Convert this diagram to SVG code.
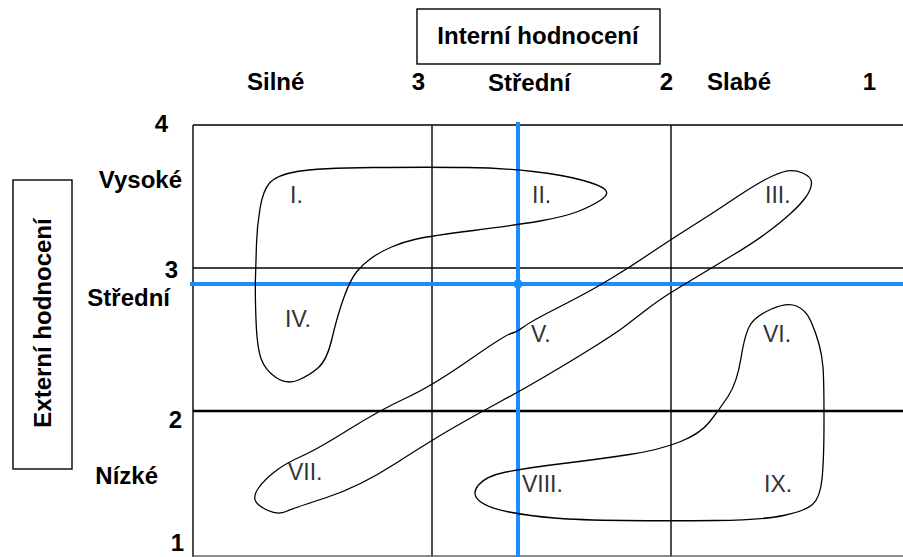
<svg xmlns="http://www.w3.org/2000/svg" width="903" height="557" viewBox="0 0 903 557">
<style>
.b{font-family:"Liberation Sans",Arial,sans-serif;font-weight:bold;font-size:24px;fill:#000}
.r{font-family:"Liberation Sans",Arial,sans-serif;font-size:23px;fill:#333}
.g{stroke:#000;stroke-width:1.4;fill:none}
.blob{stroke:#000;stroke-width:1.3;fill:none;stroke-linejoin:round}
.blue{stroke:#1a8cff;stroke-width:4;fill:none}
</style>
<rect width="903" height="557" fill="#fff"/>
<g id="header">
<rect x="417" y="9" width="243" height="55" class="g"/>
<text class="b" x="538" y="44" text-anchor="middle">Interní hodnocení</text>
<text class="b" x="247" y="90">Silné</text>
<text class="b" x="425" y="90" text-anchor="end">3</text>
<text class="b" x="488" y="91">Střední</text>
<text class="b" x="673" y="90" text-anchor="end">2</text>
<text class="b" x="707" y="90">Slabé</text>
<text class="b" x="876" y="90" text-anchor="end">1</text>
</g>
<g id="side">
<rect x="13" y="180" width="59" height="289" class="g"/>
<text class="b" transform="translate(51,323) rotate(-90)" text-anchor="middle">Externí hodnocení</text>
<text class="b" x="168" y="132" text-anchor="end">4</text>
<text class="b" x="182" y="188" text-anchor="end">Vysoké</text>
<text class="b" x="178" y="278" text-anchor="end">3</text>
<text class="b" x="170" y="306" text-anchor="end">Střední</text>
<text class="b" x="182" y="428" text-anchor="end">2</text>
<text class="b" x="158" y="484" text-anchor="end">Nízké</text>
<text class="b" x="184" y="551" text-anchor="end">1</text>
</g>
<g id="grid">
<line x1="193" y1="125" x2="903" y2="125" class="g"/>
<line x1="193" y1="125" x2="193" y2="557" class="g"/>
<line x1="432" y1="125" x2="432" y2="557" class="g"/>
<line x1="671" y1="125" x2="671" y2="557" class="g"/>
<line x1="193" y1="268" x2="903" y2="268" class="g"/>
<line x1="193" y1="411" x2="903" y2="411" stroke="#000" stroke-width="2.6"/>
<line x1="193" y1="556" x2="903" y2="556" stroke="#666" stroke-width="1.4"/>
</g>
<g id="connectors">
<line x1="190" y1="284" x2="903" y2="284" class="blue"/>
<line x1="518" y1="122" x2="518" y2="557" class="blue"/>
<circle cx="518" cy="284" r="4.5" fill="#1a8cff"/>
</g>
<g id="blob-I-II-IV">
<path class="blob" d="M 256.5,243.5 Q 256,260 255.5,276.5 Q 255,293 256,320 Q 257,347 261,358.5 Q 265,370 276,377.5 Q 287,385 298.5,380 Q 310,375 318.5,367.5 Q 327,360 332,338.5 Q 337,317 343.5,298.5 Q 350,280 356.5,272 Q 363,264 371.5,258 Q 380,252 391.5,247 Q 403,242 416.5,239 Q 430,236 473.5,230.5 Q 517,225 540,221 Q 563,217 576.5,212 Q 590,207 600,200.5 Q 610,194 605,189.5 Q 600,185 581.5,180 Q 563,175 533,171.5 Q 503,168 466.5,167.5 Q 430,167 373.5,167.5 Q 317,168 297,171.5 Q 277,175 270,182.5 Q 263,190 260,208.5 Q 257,227 256.5,243.5 Z"/>
<text class="r" x="290" y="203">I.</text>
<text class="r" x="532" y="203">II.</text>
<text class="r" x="285" y="327">IV.</text>
</g>
<g id="blob-III-V-VII">
<path class="blob" d="M 802.5,173 Q 812,177 811.5,183.5 Q 811,190 805.5,197.5 Q 800,205 790,214 Q 780,223 766.5,233 Q 753,243 733,255 Q 713,267 696.5,277 Q 680,287 669.5,293.5 Q 659,300 646,310 Q 633,320 624.5,326.5 Q 616,333 594.5,346.5 Q 573,360 547.5,375 Q 522,390 500.5,401.5 Q 479,413 455.5,426.5 Q 432,440 395.5,463.5 Q 359,487 326.5,497.5 Q 294,508 286,511.5 Q 278,515 268,510.5 Q 258,506 255.5,501 Q 253,496 258.5,488 Q 264,480 275,471.5 Q 286,463 301,456.5 Q 316,450 348,430 Q 380,410 406,398 Q 432,386 468.5,360.5 Q 505,335 511,333.5 Q 517,332 523.5,327 Q 530,322 551.5,311 Q 573,300 585,293.5 Q 597,287 613.5,277 Q 630,267 650,253.5 Q 670,240 691.5,226.5 Q 713,213 730,201.5 Q 747,190 760,182.5 Q 773,175 783,172 Q 793,169 802.5,173 Z"/>
<text class="r" x="765" y="203">III.</text>
<text class="r" x="531" y="342">V.</text>
<text class="r" x="288" y="480">VII.</text>
</g>
<g id="blob-VI-VIII-IX">
<path class="blob" d="M 796.5,306 Q 806,310 811,321.5 Q 816,333 819,344 Q 822,355 823,367.5 Q 824,380 824,420 Q 824,460 822,479 Q 820,498 812.5,504.5 Q 805,511 783.5,515.5 Q 762,520 716,520.5 Q 670,521 624,520.5 Q 578,520 554,518 Q 530,516 509,512 Q 488,508 479.5,501 Q 471,494 478.5,485 Q 486,476 506,472 Q 526,468 563,463.5 Q 600,459 629.5,454.5 Q 659,450 679.5,442 Q 700,434 709.5,422 Q 719,410 728,396.5 Q 737,383 741,358 Q 745,333 750.5,324.5 Q 756,316 771.5,309 Q 787,302 796.5,306 Z"/>
<text class="r" x="763" y="342">VI.</text>
<text class="r" x="522" y="492">VIII.</text>
<text class="r" x="764" y="492">IX.</text>
</g>
</svg>
